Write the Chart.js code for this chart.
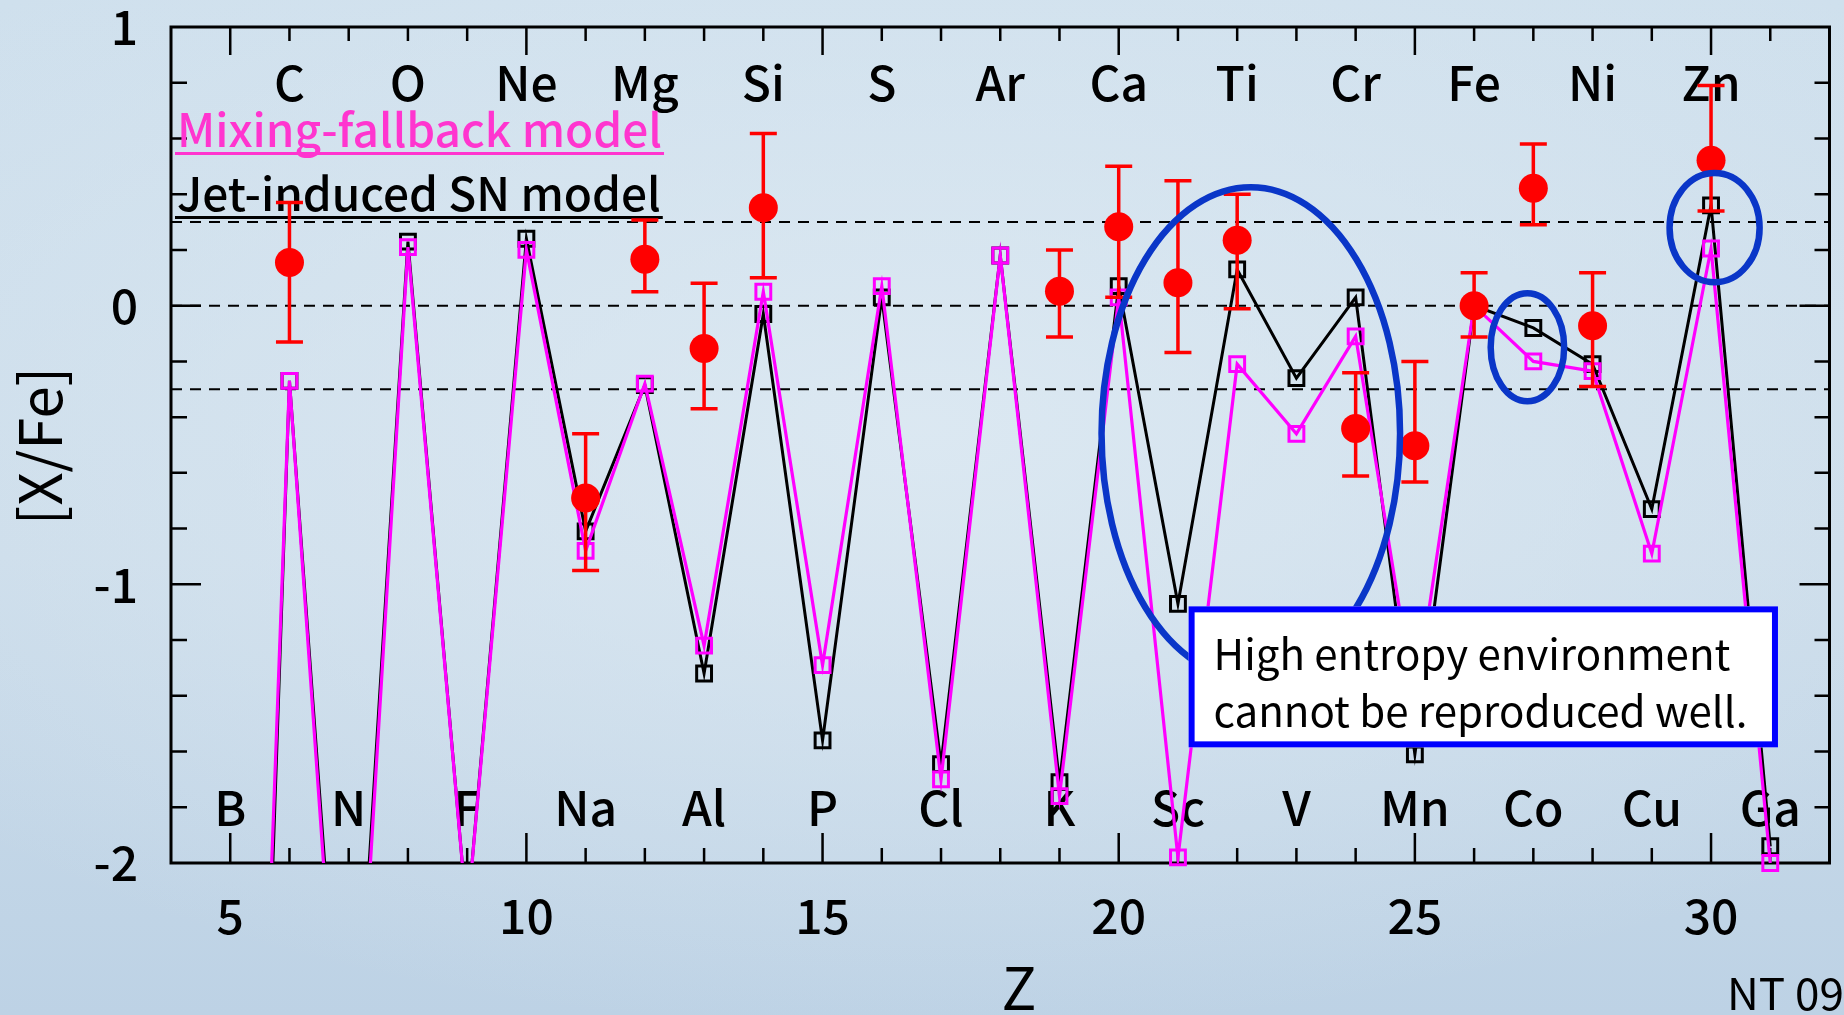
<!DOCTYPE html>
<html>
<head>
<meta charset="utf-8">
<title>[X/Fe] vs Z</title>
<script src="https://cdn.jsdelivr.net/npm/chart.js@4.4.1/dist/chart.umd.min.js"></script>
<style>
  html, body { margin: 0; padding: 0; width: 1844px; height: 1015px; overflow: hidden; }
  body {
    background:
      radial-gradient(ellipse 70% 60% at 50% 42%, rgba(222,234,243,0.85) 0%, rgba(222,234,243,0) 100%),
      linear-gradient(180deg, #cfe0ed 0%, #cbdcea 55%, #bdd2e5 100%);
  }
  canvas { display: block; }
</style>
</head>
<body>
<canvas id="chart" width="1844" height="1015"></canvas>
<script>
// Atomic numbers covered by the model curves (B .. Ga)
const atomicNumbers = [5, 6, 7, 8, 9, 10, 11, 12, 13, 14, 15, 16, 17, 18, 19, 20, 21, 22, 23, 24, 25, 26, 27, 28, 29, 30, 31];

// Jet-induced SN model [X/Fe]
const jetModel = [-6.45, -0.27, -3.18, 0.23, -2.2, 0.24, -0.81, -0.285, -1.32, -0.03, -1.56, 0.03, -1.645, 0.18, -1.71, 0.07,
                  -1.07, 0.13, -0.26, 0.03, -1.61, 0.0, -0.08, -0.21, -0.73, 0.36, -1.94];

// Mixing-fallback model [X/Fe]
const mixModel = [-6.04, -0.27, -3.28, 0.21, -2.2, 0.20, -0.88, -0.28, -1.22, 0.05, -1.29, 0.07, -1.70, 0.18, -1.76, 0.03,
                  -1.98, -0.21, -0.46, -0.11, -1.43, 0.0, -0.20, -0.235, -0.89, 0.205, -2.0];

// Observed abundances with asymmetric error ranges
const obsZ    = [6, 11, 12, 13, 14, 19, 20, 21, 22, 24, 25, 26, 27, 28, 30];
const obsVal  = [0.155, -0.69, 0.167, -0.154, 0.351, 0.052, 0.283, 0.082, 0.235, -0.441, -0.503, 0.0, 0.421, -0.072, 0.522];
const obsHigh = [0.37, -0.46, 0.307, 0.08, 0.618, 0.20, 0.50, 0.448, 0.40, -0.241, -0.20, 0.118, 0.58, 0.118, 0.79];
const obsLow  = [-0.13, -0.95, 0.05, -0.37, 0.10, -0.112, 0.03, -0.168, -0.011, -0.611, -0.633, -0.112, 0.29, -0.29, 0.34];

// Element symbols written along the top (even Z) and bottom (odd Z)
const topElements    = ['C', 'O', 'Ne', 'Mg', 'Si', 'S', 'Ar', 'Ca', 'Ti', 'Cr', 'Fe', 'Ni', 'Zn'];
const topElementZ    = [6, 8, 10, 12, 14, 16, 18, 20, 22, 24, 26, 28, 30];
const bottomElements = ['B', 'N', 'F', 'Na', 'Al', 'P', 'Cl', 'K', 'Sc', 'V', 'Mn', 'Co', 'Cu', 'Ga'];
const bottomElementZ = [5, 7, 9, 11, 13, 15, 17, 19, 21, 23, 25, 27, 29, 31];

// Axis tick labels
const xTickValues = [5, 10, 15, 20, 25, 30];
const yTickValues = [-2, -1, 0, 1];

// Dashed reference levels
const refLevels = [0.3, 0, -0.3];

// Highlight ellipses (centre and half-axes in data units)
const highlightRings = [
  { z: 22.23, v: -0.458, rz: 2.52, rv: 0.883 },
  { z: 26.90, v: -0.149, rz: 0.62, rv: 0.194 },
  { z: 30.06, v: 0.280, rz: 0.76, rv: 0.196 }
];

// Note box (data units) and its text
const noteBox = { z0: 21.18, z1: 31.13, v0: -1.079, v1: -1.585 };
const noteLines = ['High entropy environment', 'cannot be reproduced well.'];

const FONT = "'Noto Sans CJK JP', 'Noto Sans', sans-serif";
const MAGENTA = '#ff00ff';
const LEGEND_PINK = '#ff35cf';

const pointsOf = (xs, ys) => xs.map((z, i) => ({ x: z, y: ys[i] }));
const markerRadius = (ctx) => (ctx.raw && ctx.raw.y < -2.05 ? 0 : 10.5);

const decorPlugin = {
  id: 'decor',
  beforeDatasetsDraw(chart) {
    const { ctx, chartArea: a, scales: { x, y } } = chart;
    ctx.save();

    // dashed reference levels
    ctx.strokeStyle = '#000';
    ctx.lineWidth = 2;
    ctx.setLineDash([11, 8]);
    refLevels.forEach(v => {
      const py = y.getPixelForValue(v);
      ctx.beginPath();
      ctx.moveTo(a.left, py);
      ctx.lineTo(a.right, py);
      ctx.stroke();
    });
    ctx.setLineDash([]);

    // frame
    ctx.lineWidth = 3;
    ctx.strokeRect(a.left, a.top, a.right - a.left, a.bottom - a.top);

    // inward tick marks on all four sides
    ctx.lineWidth = 2.5;
    ctx.beginPath();
    for (let z = Math.ceil(x.min) + 1; z < x.max; z++) {
      const px = x.getPixelForValue(z);
      const major = z % 5 === 0;
      ctx.moveTo(px, a.bottom);
      ctx.lineTo(px, a.bottom - (major ? 30 : 15));
      ctx.moveTo(px, a.top);
      ctx.lineTo(px, a.top + (major ? 28 : 14));
    }
    for (let k = -9; k <= 4; k++) {
      const py = y.getPixelForValue(k / 5);
      const major = k % 5 === 0;
      ctx.moveTo(a.left, py);
      ctx.lineTo(a.left + (major ? 30 : 16), py);
      ctx.moveTo(a.right, py);
      ctx.lineTo(a.right - (major ? 30 : 15), py);
    }
    ctx.stroke();

    // element symbols
    ctx.fillStyle = '#000';
    ctx.font = `500 48px ${FONT}`;
    ctx.textAlign = 'center';
    ctx.textBaseline = 'middle';
    topElements.forEach((s, i) => ctx.fillText(s, x.getPixelForValue(topElementZ[i]), y.getPixelForValue(0.80)));
    bottomElements.forEach((s, i) => ctx.fillText(s, x.getPixelForValue(bottomElementZ[i]), y.getPixelForValue(-1.80)));

    // model legend, underlined
    ctx.textAlign = 'left';
    ctx.textBaseline = 'alphabetic';
    ctx.font = `500 46px ${FONT}`;
    const legend = [
      { text: 'Mixing-fallback model', color: LEGEND_PINK, base: 147 },
      { text: 'Jet-induced SN model', color: '#000', base: 211 }
    ];
    legend.forEach(l => {
      const lx = a.left + 6;
      const ly = a.top + l.base - 27;
      ctx.fillStyle = l.color;
      ctx.fillText(l.text, lx, ly);
      const w = ctx.measureText(l.text).width;
      ctx.fillRect(lx - 2, ly + 5, w + 4, 3);
    });

    // axis titles and tag
    ctx.fillStyle = '#000';
    ctx.font = `58px ${FONT}`;
    ctx.textAlign = 'center';
    ctx.textBaseline = 'alphabetic';
    ctx.fillText('Z', 1019, 1010);
    ctx.save();
    ctx.translate(62, 446);
    ctx.rotate(-Math.PI / 2);
    ctx.fillText('[X/Fe]', 0, 0);
    ctx.restore();
    ctx.font = `44px ${FONT}`;
    ctx.textAlign = 'left';
    ctx.fillText('NT 09', 1727, 1010);

    ctx.restore();
  },
  beforeDatasetDraw(chart, args) {
    // error bars under the observed points
    if (args.index !== 0) return;
    const { ctx, scales: { x, y } } = chart;
    ctx.save();
    ctx.strokeStyle = '#ff0000';
    ctx.lineWidth = 3.5;
    ctx.beginPath();
    obsZ.forEach((z, i) => {
      const px = x.getPixelForValue(z);
      const pHi = y.getPixelForValue(obsHigh[i]);
      const pLo = y.getPixelForValue(obsLow[i]);
      ctx.moveTo(px, pHi); ctx.lineTo(px, pLo);
      ctx.moveTo(px - 13.5, pHi); ctx.lineTo(px + 13.5, pHi);
      ctx.moveTo(px - 13.5, pLo); ctx.lineTo(px + 13.5, pLo);
    });
    ctx.stroke();
    ctx.restore();
  },
  afterDatasetsDraw(chart) {
    const { ctx, scales: { x, y } } = chart;
    ctx.save();

    // highlight ellipses
    ctx.strokeStyle = '#0a36c8';
    ctx.lineWidth = 6.5;
    highlightRings.forEach(r => {
      const cx = x.getPixelForValue(r.z);
      const cy = y.getPixelForValue(r.v);
      const rx = x.getPixelForValue(r.z + r.rz) - cx;
      const ry = cy - y.getPixelForValue(r.v + r.rv);
      ctx.beginPath();
      ctx.ellipse(cx, cy, rx, ry, 0, 0, Math.PI * 2);
      ctx.stroke();
    });

    // note box
    const bx0 = x.getPixelForValue(noteBox.z0);
    const bx1 = x.getPixelForValue(noteBox.z1);
    const by0 = y.getPixelForValue(noteBox.v0);
    const by1 = y.getPixelForValue(noteBox.v1);
    ctx.fillStyle = '#ffffff';
    ctx.fillRect(bx0, by0, bx1 - bx0, by1 - by0);
    ctx.strokeStyle = '#0000ff';
    ctx.lineWidth = 6;
    ctx.strokeRect(bx0 + 3, by0 + 3, bx1 - bx0 - 6, by1 - by0 - 6);
    ctx.fillStyle = '#000';
    ctx.font = `42px ${FONT}`;
    ctx.textAlign = 'left';
    ctx.textBaseline = 'alphabetic';
    ctx.fillText(noteLines[0], bx0 + 25, by0 + 64);
    ctx.fillText(noteLines[1], bx0 + 25, by0 + 121);

    ctx.restore();
  }
};

Chart.defaults.font.family = FONT;

new Chart(document.getElementById('chart'), {
  type: 'scatter',
  data: {
    datasets: [
      {
        label: 'Observed',
        data: pointsOf(obsZ, obsVal),
        showLine: false,
        pointStyle: 'circle',
        pointRadius: 14.5,
        pointHoverRadius: 14.5,
        pointBorderWidth: 0,
        backgroundColor: '#ff0000',
        borderColor: '#ff0000',
        clip: false
      },
      {
        label: 'Mixing-fallback model markers',
        data: pointsOf(atomicNumbers, mixModel),
        showLine: false,
        pointStyle: 'rect',
        pointRadius: markerRadius,
        pointHoverRadius: markerRadius,
        pointBorderWidth: 3,
        pointBackgroundColor: 'rgba(0,0,0,0)',
        borderColor: MAGENTA,
        clip: false
      },
      {
        label: 'Mixing-fallback model',
        data: pointsOf(atomicNumbers, mixModel),
        showLine: true,
        pointRadius: 0,
        borderColor: MAGENTA,
        borderWidth: 3.2,
        clip: 0
      },
      {
        label: 'Jet-induced SN model markers',
        data: pointsOf(atomicNumbers, jetModel),
        showLine: false,
        pointStyle: 'rect',
        pointRadius: markerRadius,
        pointHoverRadius: markerRadius,
        pointBorderWidth: 3,
        pointBackgroundColor: 'rgba(0,0,0,0)',
        borderColor: '#000000',
        clip: false
      },
      {
        label: 'Jet-induced SN model',
        data: pointsOf(atomicNumbers, jetModel),
        showLine: true,
        pointRadius: 0,
        borderColor: '#000000',
        borderWidth: 3,
        clip: 0
      }
    ]
  },
  options: {
    responsive: false,
    animation: false,
    devicePixelRatio: 1,
    layout: { padding: { top: 27, right: 13, left: 0, bottom: 0 } },
    plugins: { legend: { display: false }, tooltip: { enabled: false } },
    events: [],
    scales: {
      x: {
        type: 'linear',
        min: 4,
        max: 32,
        afterBuildTicks: s => { s.ticks = xTickValues.map(v => ({ value: v })); },
        afterFit: s => { s.height = 152; s.paddingLeft = 0; s.paddingRight = 0; },
        grid: { display: false, drawTicks: false },
        border: { display: false },
        ticks: { color: '#000', font: { size: 48, family: FONT, weight: 500 }, padding: 24, maxRotation: 0, autoSkip: false }
      },
      y: {
        type: 'linear',
        min: -2,
        max: 1,
        afterBuildTicks: s => { s.ticks = yTickValues.map(v => ({ value: v })); },
        afterFit: s => { s.width = 171; s.paddingTop = 0; s.paddingBottom = 0; },
        grid: { display: false, drawTicks: false },
        border: { display: false },
        ticks: { color: '#000', font: { size: 48, family: FONT, weight: 500 }, padding: 33, autoSkip: false }
      }
    }
  },
  plugins: [decorPlugin]
});
</script>
</body>
</html>
